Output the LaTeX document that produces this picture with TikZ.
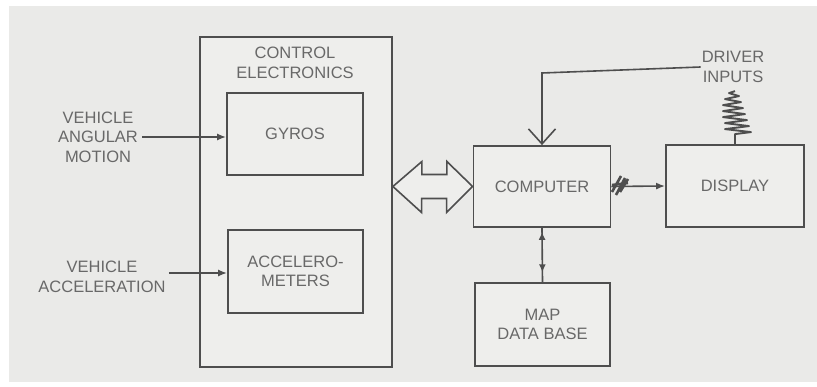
\documentclass[tikz,border=0pt]{standalone}
\usepackage{fontspec}
\setmainfont{Liberation Sans}
\usetikzlibrary{arrows.meta,decorations.markings}
\definecolor{bgc}{HTML}{EAEAE8}
\definecolor{boxc}{HTML}{EEEEEC}
\definecolor{linec}{HTML}{4E4E4E}
\definecolor{textc}{HTML}{686868}
\begin{document}
\begin{tikzpicture}[x=1pt,y=-1pt,
  blk/.style={draw=linec, line width=1.8pt, fill=boxc, inner sep=0pt, align=center,
     text=textc, font=\fontsize{16.5}{19.5}\selectfont},
  lbl/.style={inner sep=1pt, align=center, text=textc, font=\fontsize{16.5}{19.5}\selectfont},
  conn/.style={draw=linec, line width=1.6pt},
  tip/.style={-{Latex[length=9pt,width=7pt]}}
]
\useasboundingbox (0,0) rectangle (817,387);
\fill[white] (0,0) rectangle (817,387);
\fill[bgc] (9,6) rectangle (817,382);

% control electronics
\node[blk, minimum width=192pt, minimum height=330pt] (ce) at (296,202) {};
\node[lbl] (cetitle) at (295,63) {CONTROL\\ELECTRONICS};
\node[blk, minimum width=136pt, minimum height=82pt] (gyros) at (295,134) {GYROS};
\node[blk, minimum width=135pt, minimum height=83pt] (acc) at (295.5,271.5) {ACCELERO-\\METERS};

\node[blk, minimum width=137pt, minimum height=81pt] (comp) at (542,186.5) {COMPUTER};
\node[blk, minimum width=138pt, minimum height=82pt] (disp) at (735,186) {DISPLAY};
\node[blk, minimum width=135pt, minimum height=83pt] (map) at (542.5,324.5) {MAP\\DATA BASE};

\node[lbl] (vam) at (98,137) {VEHICLE\\ANGULAR\\MOTION};
\node[lbl] (vacc) at (102,277) {VEHICLE\\ACCELERATION};
\node[lbl] (drv) at (733,67) {DRIVER\\INPUTS};

% inputs
\draw[conn, tip] (vam.east) ++(3,0) coordinate (vams) -- (vams -| gyros.west);
\draw[conn, tip] (vacc.east |- 273,273) ++(2,0) coordinate (vaccs) -- (vaccs -| acc.west);

% double arrow
\draw[draw=linec, line width=1.6pt, fill=boxc, line join=miter]
  (ce.east |- comp.west) -- ++(29,-25) -- ++(0,13) -- ++(25,0) -- ++(0,-13)
  -- (comp.west) -- ++(-26,26) -- ++(0,-14) -- ++(-25,0) -- ++(0,14) -- cycle;

% driver inputs to computer
\coordinate (dcorner) at (comp.north |- 0,73);
\draw[conn, -{Straight Barb[length=15pt,width=27pt,line width=1.6pt]}]
  (drv.west) -- (dcorner) -- (comp.north);

% spring above display
\draw[conn, line width=1.9pt, line join=round]
  (disp.north) -- ++(0,-10) -- ++(16,-2) -- ++(-26,-3) -- ++(24,-3) -- ++(-24,-3)
  -- ++(22,-3) -- ++(-24,-3) -- ++(22,-3) -- ++(-22,-3) -- ++(20,-3) -- ++(-20,-3)
  -- ++(18,-3) -- ++(-16,-3) -- ++(14,-3) -- ++(-10,-3) -- ++(6,-2);

% computer to display
\draw[conn, -{Latex[length=9pt,width=7pt]}] (comp.east) -- (disp.west);
\draw[draw=linec, line width=2.6pt]
  (612,192) -- (621,176)  (616,195) -- (625,178)  (620,192) -- (628,179)
  (612,185) -- (628,183);

% computer to map
\draw[conn, postaction={decorate}, decoration={markings,
    mark=at position 0.22 with {\arrow{Latex[length=8pt,width=7pt,reversed]}},
    mark=at position 0.82 with {\arrow{Latex[length=8pt,width=7pt]}}}]
  (comp.south) -- (map.north);
\end{tikzpicture}
\end{document}
